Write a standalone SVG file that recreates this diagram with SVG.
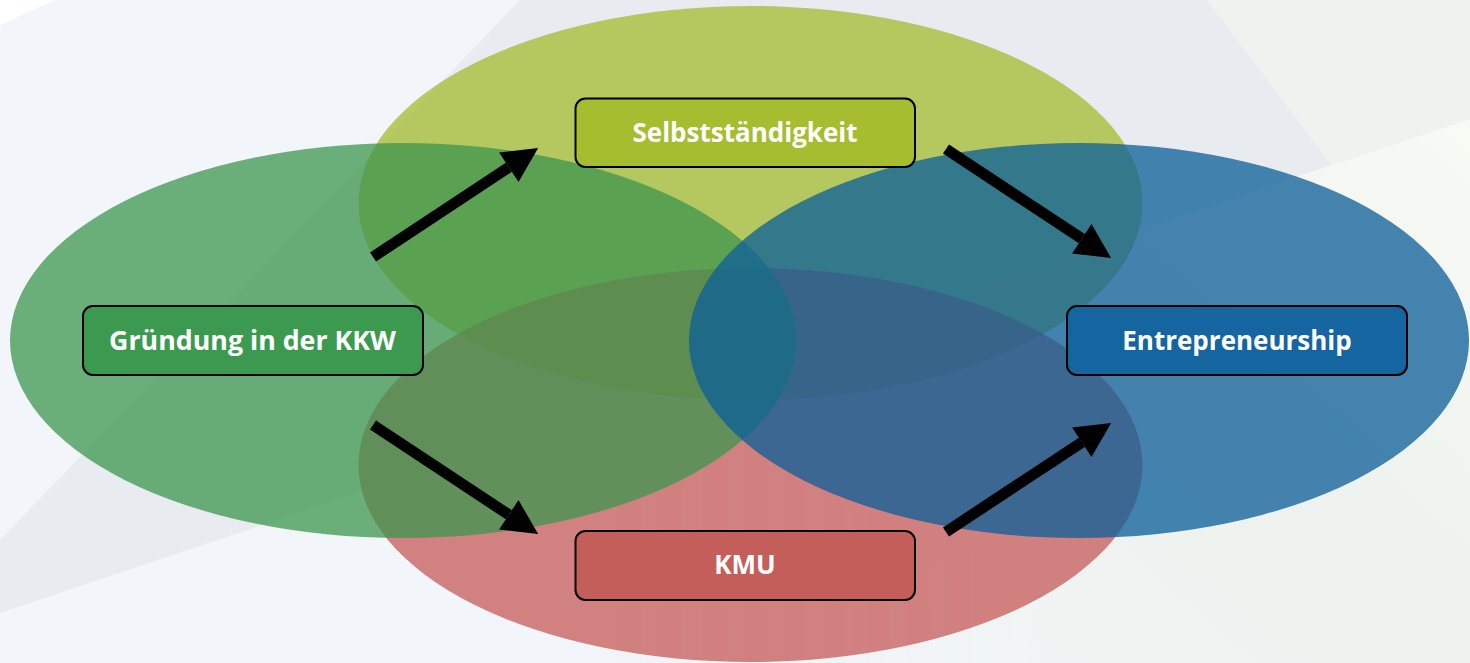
<svg xmlns="http://www.w3.org/2000/svg" width="1470" height="663" viewBox="0 0 1470 663">
  <style>
    .box { stroke: #000; stroke-width: 2; }
    .label { font-family: "Open Sans", "Noto Sans", "Liberation Sans", sans-serif; font-weight: 700; font-size: 26px; fill: #fff; text-anchor: middle; }
    .arrow { stroke: #000; stroke-width: 11; fill: none; marker-end: url(#head); }
  </style>
  <defs>
    <marker id="head" markerUnits="strokeWidth" markerWidth="3.3" markerHeight="3.3" refX="0" refY="1.6" orient="auto" overflow="visible">
      <path d="M0,0 L3.2,1.6 L0,3.2 Z" fill="#000"/>
    </marker>
    <linearGradient id="lowerRight" x1="1470" y1="120" x2="1000" y2="663" gradientUnits="userSpaceOnUse">
      <stop offset="0" stop-color="#f8faf4"/>
      <stop offset="0.55" stop-color="#edf2ee"/>
      <stop offset="1" stop-color="#f0f4f4"/>
    </linearGradient>
    <linearGradient id="fadeLeft" x1="600" y1="0" x2="1050" y2="0" gradientUnits="userSpaceOnUse">
      <stop offset="0" stop-color="#fff" stop-opacity="0"/>
      <stop offset="1" stop-color="#fff" stop-opacity="1"/>
    </linearGradient>
    <mask id="lowerRightMask">
      <rect x="0" y="0" width="1470" height="663" fill="url(#fadeLeft)"/>
    </mask>
  </defs>

  <!-- background planes -->
  <g id="background">
    <rect x="0" y="0" width="1470" height="663" fill="#f2f5fa"/>
    <polygon points="500,663 1470,663 1470,119 1332,165 500,445" fill="url(#lowerRight)" mask="url(#lowerRightMask)"/>
    <polygon points="520,0 1207,0 1332,165 0,613 0,540" fill="#e8ecf0"/>
    <polygon points="1207,0 1470,0 1470,119 1332,165" fill="#eff2ee"/>
    <polygon points="0,0 55,0 0,25" fill="#ffffff"/>
  </g>

  <!-- overlapping sets -->
  <g id="sets">
    <ellipse id="set-selbststaendigkeit" cx="750.5" cy="203" rx="392" ry="197" fill="#a3bc2f" fill-opacity="0.75"/>
    <ellipse id="set-kmu" cx="750.5" cy="465" rx="392" ry="197" fill="#c55957" fill-opacity="0.75"/>
    <ellipse id="set-gruendung" cx="403" cy="340.5" rx="393" ry="197.5" fill="#3c964d" fill-opacity="0.75"/>
    <ellipse id="set-entrepreneurship" cx="1079" cy="340.5" rx="390" ry="197.5" fill="#0c5f98" fill-opacity="0.76"/>
  </g>

  <!-- connectors -->
  <g id="connectors">
    <line class="arrow" x1="373" y1="257" x2="508.8" y2="167.3"/>
    <line class="arrow" x1="946" y1="149" x2="1081.8" y2="238.7"/>
    <line class="arrow" x1="373" y1="425" x2="508.8" y2="514.7"/>
    <line class="arrow" x1="946" y1="532" x2="1081.8" y2="442.3"/>
  </g>

  <!-- nodes -->
  <g id="node-selbststaendigkeit">
    <rect class="box" x="575.5" y="98.5" width="339.5" height="68.5" rx="10" fill="#a5bd2f"/>
    <text class="label" x="745" y="141.5">Selbstständigkeit</text>
  </g>
  <g id="node-gruendung">
    <rect class="box" x="83" y="306" width="340" height="69" rx="10" fill="#3c9a50"/>
    <text class="label" x="252.5" y="349.5" textLength="287" lengthAdjust="spacingAndGlyphs">Gründung in der KKW</text>
  </g>
  <g id="node-entrepreneurship">
    <rect class="box" x="1067" y="306" width="340" height="69" rx="10" fill="#1565a0"/>
    <text class="label" x="1237" y="349.5">Entrepreneurship</text>
  </g>
  <g id="node-kmu">
    <rect class="box" x="575.5" y="531" width="339.5" height="69" rx="10" fill="#c45e5a"/>
    <text class="label" x="745" y="574">KMU</text>
  </g>
</svg>
